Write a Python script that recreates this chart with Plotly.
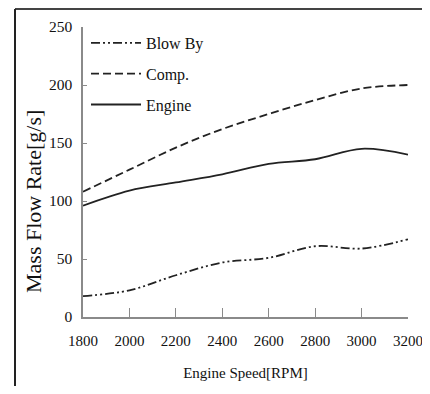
import plotly.graph_objects as go

speed = [1800, 2000, 2200, 2400, 2600, 2800, 3000, 3200]
blow_by = [18, 23, 36, 47, 51, 61, 59, 67]
comp = [108, 127, 146, 162, 175, 187, 197, 200]
engine = [96, 109, 116, 123, 132, 136, 145, 140]

x_ticks = [1800, 2000, 2200, 2400, 2600, 2800, 3000, 3200]
y_ticks = [0, 50, 100, 150, 200, 250]

FONT = "Liberation Serif, Times New Roman, serif"
OFF = 8  # page body margin offset
W, H = 430 - 2 * OFF, 394 - 2 * OFF
# plot area in window pixels: x 83..408, y 27..317
L, T = 83 - OFF, 27 - OFF
R = W - L - 325
B = H - T - 290
pw, ph = W - L - R, H - T - B

def px(xp):
    return (xp - OFF - L) / pw

def py(yp):
    return (H - B - (yp - OFF)) / ph

fig = go.Figure()
fig.add_trace(go.Scatter(x=speed, y=blow_by, name="Blow By", mode="lines",
                         line=dict(color="#222", width=1.8, shape="spline",
                                   dash="9px,3px,2px,3px,2px,3px"),
                         legendgroup="a"))
fig.add_trace(go.Scatter(x=speed, y=comp, name="Comp.", mode="lines",
                         line=dict(color="#222", width=1.8, shape="spline", dash="8px,4px"),
                         legendgroup="b"))
fig.add_trace(go.Scatter(x=speed, y=engine, name="Engine", mode="lines",
                         line=dict(color="#222", width=1.8, shape="spline"),
                         legendgroup="c"))

fig.update_layout(
    width=W, height=H,
    margin=dict(l=L, r=R, t=T, b=B, autoexpand=False),
    paper_bgcolor="white", plot_bgcolor="white",
    font=dict(family=FONT, color="#111", size=16),
    showlegend=True,
    legend=dict(x=px(86), y=py(26), xanchor="left", yanchor="top",
                bgcolor="rgba(0,0,0,0)", font=dict(size=16, family=FONT),
                tracegroupgap=7, itemwidth=50),
    xaxis=dict(range=[1800, 3200], tickvals=x_ticks, ticktext=[str(v) for v in x_ticks],
               showgrid=False, zeroline=False, showline=True, linecolor="#8a8a8a",
               linewidth=1.5, ticks="inside", ticklen=9, tickcolor="#8a8a8a", tickwidth=1.2,
               tickfont=dict(size=15, family=FONT), ticklabelstandoff=9, automargin=False,
               ticklabeloverflow="allow",
               title=dict(text="Engine Speed[RPM]", font=dict(size=15, family=FONT), standoff=20)),
    yaxis=dict(range=[0, 250], tickvals=y_ticks, ticktext=[str(v) for v in y_ticks],
               showgrid=False, zeroline=False, showline=True, linecolor="#8a8a8a",
               linewidth=1.5, ticks="inside", ticklen=4, tickcolor="#8a8a8a", tickwidth=1.2,
               tickfont=dict(size=15.5, family=FONT), ticklabelstandoff=6, automargin=False),
    annotations=[dict(text="Mass Flow Rate[g/s]", textangle=-90, xref="paper", yref="paper",
                      x=px(33), y=py(202), xanchor="center", yanchor="middle", showarrow=False,
                      font=dict(size=22, family=FONT, color="#111"))],
    shapes=[
        dict(type="line", xref="paper", yref="paper", x0=px(15), x1=px(440), y0=py(9), y1=py(9),
             line=dict(color="#444", width=2)),
        dict(type="line", xref="paper", yref="paper", x0=px(15), x1=px(15), y0=py(9), y1=py(400),
             line=dict(color="#222", width=2)),
    ],
)

fig.write_html("out.html")
